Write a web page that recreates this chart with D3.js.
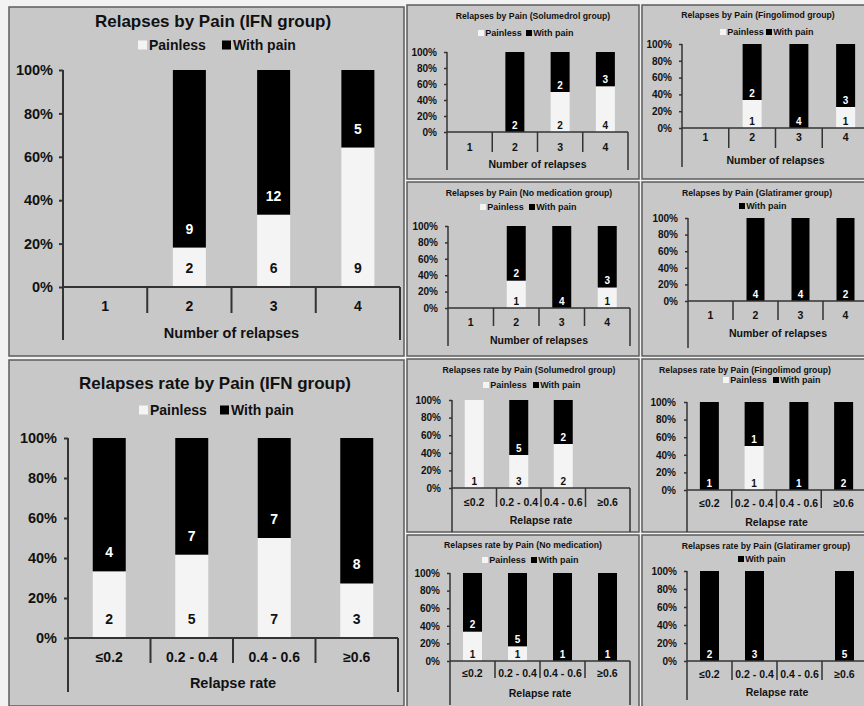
<!DOCTYPE html>
<html>
<head>
<meta charset="utf-8">
<script src="https://cdn.jsdelivr.net/npm/d3@7"></script>
<style>
  html, body { margin: 0; padding: 0; background: #f2f2f2; }
  svg { display: block; }
  text { font-family: "Liberation Sans", Arial, sans-serif; font-weight: bold; fill: #111; }
</style>
</head>
<body>
<svg id="fig" width="864" height="706"></svg>
<script>
// ---- data ----
const seriesNames = ["Painless", "With pain"];
const relapseCategories = ["1", "2", "3", "4"];
const rateCategories = ["≤0.2", "0.2 - 0.4", "0.4 - 0.6", "≥0.6"];
const percentTicks = [0, 0.2, 0.4, 0.6, 0.8, 1];

// counts of relapses per category
const ifnRelapsePainless = [0, 2, 6, 9];
const ifnRelapsePain     = [0, 9, 12, 5];
const ifnRatePainless    = [2, 5, 7, 3];
const ifnRatePain        = [4, 7, 7, 8];

const soluRelapsePainless  = [0, 0, 2, 4];
const soluRelapsePain      = [0, 2, 2, 3];
const fingoRelapsePainless = [0, 1, 0, 1];
const fingoRelapsePain     = [0, 2, 4, 3];
const noMedRelapsePainless = [0, 1, 0, 1];
const noMedRelapsePain     = [0, 2, 4, 3];
const glatRelapsePainless  = [0, 0, 0, 0];
const glatRelapsePain      = [0, 4, 4, 2];

const soluRatePainless  = [1, 3, 2, 0];
const soluRatePain      = [0, 5, 2, 0];
const fingoRatePainless = [0, 1, 0, 0];
const fingoRatePain     = [1, 1, 1, 2];
const noMedRatePainless = [1, 1, 0, 0];
const noMedRatePain     = [2, 5, 1, 1];
const glatRatePainless  = [0, 0, 0, 0];
const glatRatePain      = [2, 3, 0, 5];

// ---- styling ----
const PANEL_FILL = "#c8c8c8";
const BORDER = "#5c5c5c";
const AXIS = "#333";
const COLORS = { "Painless": "#f4f4f4", "With pain": "#000" };

const big = { title: 17, legend: 14, tick: 14.5, cat: 14, xTitle: 14.5, label: 14, labelOffset: 19,
              barW: 33, axisW: 2, swatch: 9, tickLen: 4 };
const small = { title: 8.7, legend: 9, tick: 10, cat: 10.5, xTitle: 10.5, label: 10, labelOffset: 7,
                barW: 19, axisW: 1.5, swatch: 6, tickLen: 3 };

const panels = [
  { title: "Relapses by Pain (IFN group)", xTitle: "Number of relapses", cats: relapseCategories,
    painless: ifnRelapsePainless, pain: ifnRelapsePain, s: big,
    box: [9, 7, 395, 349], titleX: 213, titleY: 21, legendY: 45,
    legend: [["Painless", 138], ["With pain", 222]],
    x0: 63, x1: 400, y100: 70, y0: 287, sepBottom: 313, axisBottom: 340, catY: 306, xTitleY: 333, tickRight: 53 },
  { title: "Relapses rate by Pain (IFN group)", xTitle: "Relapse rate", cats: rateCategories,
    painless: ifnRatePainless, pain: ifnRatePain, s: big,
    box: [9, 360, 395, 346], titleX: 215, titleY: 383, legendY: 410,
    legend: [["Painless", 139], ["With pain", 220]],
    x0: 68, x1: 398, y100: 438, y0: 638, sepBottom: 663, axisBottom: 692, catY: 657, xTitleY: 683, tickRight: 57 },
  { title: "Relapses by Pain (Solumedrol group)", xTitle: "Number of relapses", cats: relapseCategories,
    painless: soluRelapsePainless, pain: soluRelapsePain, s: small,
    box: [407, 5, 232, 174], titleX: 533, titleY: 16, legendY: 33,
    legend: [["Painless", 478], ["With pain", 526]],
    x0: 447, x1: 628, y100: 52, y0: 132, sepBottom: 152, axisBottom: 170, catY: 147, xTitleY: 164, tickRight: 437 },
  { title: "Relapses by Pain (Fingolimod group)", xTitle: "Number of relapses", cats: relapseCategories,
    painless: fingoRelapsePainless, pain: fingoRelapsePain, s: small,
    box: [642, 5, 230, 174], titleX: 758, titleY: 15, legendY: 32,
    legend: [["Painless", 720], ["With pain", 766]],
    x0: 682, x1: 869, y100: 44, y0: 128, sepBottom: 148, axisBottom: 167, catY: 137, xTitleY: 160, tickRight: 672 },
  { title: "Relapses by Pain (No medication group)", xTitle: "Number of relapses", cats: relapseCategories,
    painless: noMedRelapsePainless, pain: noMedRelapsePain, s: small,
    box: [407, 182, 232, 174], titleX: 529, titleY: 193, legendY: 207,
    legend: [["Painless", 480], ["With pain", 529]],
    x0: 448, x1: 630, y100: 226, y0: 308, sepBottom: 326, axisBottom: 346, catY: 322, xTitleY: 340, tickRight: 438 },
  { title: "Relapses by Pain (Glatiramer group)", xTitle: "Number of relapses", cats: relapseCategories,
    painless: glatRelapsePainless, pain: glatRelapsePain, s: Object.assign({}, small, { barW: 18 }),
    box: [642, 182, 230, 174], titleX: 757, titleY: 193, legendY: 206,
    legend: [["With pain", 739]],
    x0: 688, x1: 868, y100: 218, y0: 301, sepBottom: 320, axisBottom: 348, catY: 315, xTitleY: 333, tickRight: 678 },
  { title: "Relapses rate by Pain (Solumedrol group)", xTitle: "Relapse rate", cats: rateCategories,
    painless: soluRatePainless, pain: soluRatePain, s: small,
    box: [407, 359, 232, 173], titleX: 529, titleY: 370, legendY: 385,
    legend: [["Painless", 483], ["With pain", 533]],
    x0: 452, x1: 630, y100: 400, y0: 488, sepBottom: 507, axisBottom: 532, catY: 502, xTitleY: 520, tickRight: 441 },
  { title: "Relapses rate by Pain (Fingolimod group)", xTitle: "Relapse rate", cats: rateCategories,
    painless: fingoRatePainless, pain: fingoRatePain, s: small,
    box: [642, 359, 230, 173], titleX: 745, titleY: 370, legendY: 380,
    legend: [["Painless", 723], ["With pain", 773]],
    x0: 687, x1: 866, y100: 402, y0: 490, sepBottom: 508, axisBottom: 532, catY: 503, xTitleY: 522, tickRight: 676 },
  { title: "Relapses rate by Pain (No medication)", xTitle: "Relapse rate", cats: rateCategories,
    painless: noMedRatePainless, pain: noMedRatePain, s: small,
    box: [407, 535, 232, 175], titleX: 523, titleY: 545, legendY: 560,
    legend: [["Painless", 482], ["With pain", 531]],
    x0: 450, x1: 630, y100: 573, y0: 661, sepBottom: 678, axisBottom: 705, catY: 673, xTitleY: 693, tickRight: 440 },
  { title: "Relapses rate by Pain (Glatiramer group)", xTitle: "Relapse rate", cats: rateCategories,
    painless: glatRatePainless, pain: glatRatePain, s: small,
    box: [642, 535, 230, 175], titleX: 766, titleY: 546, legendY: 559,
    legend: [["With pain", 738]],
    x0: 687, x1: 867, y100: 571, y0: 661, sepBottom: 680, axisBottom: 700, catY: 674, xTitleY: 692, tickRight: 677 }
];

const svg = d3.select("#fig");
svg.append("rect").attr("width", 864).attr("height", 706).attr("fill", "#f2f2f2");

function drawPanel(p) {
  const s = p.s;
  const g = svg.append("g");

  // frame
  g.append("rect")
    .attr("x", p.box[0]).attr("y", p.box[1]).attr("width", p.box[2]).attr("height", p.box[3])
    .attr("fill", PANEL_FILL).attr("stroke", BORDER).attr("stroke-width", 1.5);

  // title
  g.append("text").attr("x", p.titleX).attr("y", p.titleY)
    .attr("text-anchor", "middle").attr("dominant-baseline", "central")
    .style("font-size", s.title + "px").text(p.title);

  // legend
  p.legend.forEach(([name, sx]) => {
    g.append("rect").attr("x", sx).attr("y", p.legendY - s.swatch / 2)
      .attr("width", s.swatch).attr("height", s.swatch).attr("fill", COLORS[name]);
    g.append("text").attr("x", sx + s.swatch + (s === big ? 2 : 1.2)).attr("y", p.legendY)
      .attr("dominant-baseline", "central").style("font-size", s.legend + "px").text(name);
  });

  // scales
  const step = (p.x1 - p.x0) / p.cats.length;
  const pad = 1 - s.barW / step;
  const x = d3.scaleBand().domain(p.cats).range([p.x0, p.x1]).paddingInner(pad).paddingOuter(pad / 2);
  const y = d3.scaleLinear().domain([0, 1]).range([p.y0, p.y100]);

  const rows = p.cats.map((c, i) => ({ cat: c, "Painless": p.painless[i], "With pain": p.pain[i] }));
  const stacked = d3.stack().keys(seriesNames).offset(d3.stackOffsetExpand)(rows);

  // bars
  stacked.forEach(series => {
    const key = series.key;
    series.forEach(seg => {
      const v = seg.data[key];
      if (!v) return;
      g.append("rect")
        .attr("x", x(seg.data.cat)).attr("width", x.bandwidth())
        .attr("y", y(seg[1])).attr("height", y(seg[0]) - y(seg[1]))
        .attr("fill", COLORS[key]);
      g.append("text")
        .attr("x", x(seg.data.cat) + x.bandwidth() / 2)
        .attr("y", y(seg[0]) - s.labelOffset)
        .attr("text-anchor", "middle").attr("dominant-baseline", "central")
        .style("font-size", s.label + "px")
        .style("fill", key === "With pain" ? "#fff" : "#111")
        .text(v);
    });
  });

  // y axis ticks and labels
  const yAxis = g.append("g").attr("transform", `translate(${p.x0},0)`)
    .call(d3.axisLeft(y).tickValues(percentTicks).tickFormat(d3.format(".0%"))
      .tickSize(s.tickLen).tickPadding(p.x0 - p.tickRight - s.tickLen));
  yAxis.select(".domain").remove();
  yAxis.selectAll("line").attr("stroke", AXIS).attr("stroke-width", s.axisW);
  yAxis.selectAll("text").style("font-size", s.tick + "px").attr("fill", "#111");

  // axis frame lines
  const lines = [
    [p.x0, p.y100, p.x0, p.axisBottom],
    [p.x0, p.y0, p.x1, p.y0],
    [p.x1, p.y0, p.x1, p.axisBottom]
  ];
  for (let k = 1; k < p.cats.length; k++) {
    const sx = x(p.cats[k]) + x.bandwidth() / 2 - x.step() / 2;
    lines.push([sx, p.y0, sx, p.sepBottom]);
  }
  lines.forEach(([a, b, c, d]) => {
    g.append("line").attr("x1", a).attr("y1", b).attr("x2", c).attr("y2", d)
      .attr("stroke", AXIS).attr("stroke-width", s.axisW);
  });

  // category labels
  const xAxis = g.append("g").attr("transform", `translate(0,${p.catY})`)
    .call(d3.axisBottom(x).tickSize(0).tickPadding(0));
  xAxis.select(".domain").remove();
  xAxis.selectAll("text").attr("y", 0).attr("dy", "0.35em")
    .style("font-size", s.cat + "px").attr("fill", "#111");

  // axis title
  g.append("text").attr("x", (p.x0 + p.x1) / 2).attr("y", p.xTitleY)
    .attr("text-anchor", "middle").attr("dominant-baseline", "central")
    .style("font-size", s.xTitle + "px").text(p.xTitle);
}

panels.forEach(drawPanel);
</script>
</body>
</html>
